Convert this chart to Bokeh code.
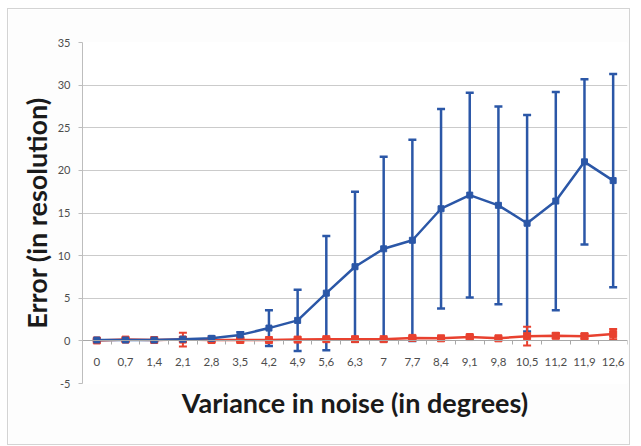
from bokeh.plotting import figure
from bokeh.models import ColumnDataSource, Whisker, TeeHead, FixedTicker, Title, Range1d
from bokeh.embed import file_html
from bokeh.resources import INLINE

# Noise variance categories (degrees) as shown on the axis
noise_variance = ["0", "0,7", "1,4", "2,1", "2,8", "3,5", "4,2", "4,9", "5,6", "6,3",
                  "7", "7,7", "8,4", "9,1", "9,8", "10,5", "11,2", "11,9", "12,6"]

# Blue series: mean error and its spread
blue_mean = [0.1, 0.1, 0.1, 0.2, 0.3, 0.7, 1.5, 2.4, 5.6, 8.7,
             10.8, 11.8, 15.5, 17.1, 15.9, 13.8, 16.4, 21.0, 18.8]
blue_err = [0.1, 0.1, 0.1, 0.2, 0.2, 0.3, 2.1, 3.6, 6.7, 8.8,
            10.8, 11.8, 11.7, 12.0, 11.6, 12.7, 12.8, 9.7, 12.5]

# Red series: mean error and its spread
red_mean = [0.05, 0.15, 0.1, 0.15, 0.1, 0.1, 0.1, 0.15, 0.2, 0.2,
            0.2, 0.35, 0.3, 0.45, 0.3, 0.55, 0.6, 0.55, 0.8]
red_err = [0.1, 0.2, 0.1, 0.8, 0.2, 0.2, 0.1, 0.1, 0.1, 0.1,
           0.1, 0.2, 0.1, 0.2, 0.1, 1.1, 0.3, 0.3, 0.6]

y_ticks = [-5, 0, 5, 10, 15, 20, 25, 30, 35]

BLUE = "#2B57A7"
RED = "#E8412F"
FONT = "Lato"
TICK_COLOR = "#4D4D4D"

xs = list(range(len(noise_variance)))


def series_source(mean, err):
    return ColumnDataSource(dict(
        x=xs,
        y=mean,
        lower=[m - e for m, e in zip(mean, err)],
        upper=[m + e for m, e in zip(mean, err)],
    ))


blue_src = series_source(blue_mean, blue_err)
red_src = series_source(red_mean, red_err)

p = figure(
    width=623, height=437,
    x_range=Range1d(-0.5, len(xs) - 0.5),
    y_range=Range1d(y_ticks[0], y_ticks[-1]),
    output_backend="svg", toolbar_location=None,
    min_border_left=74, min_border_right=4, min_border_top=33, min_border_bottom=63,
    background_fill_color="white", border_fill_color="#FDFDFD",
)
p.outline_line_color = None
p.styles = {"border": "1px solid #D4D4D4", "margin-left": "7px", "margin-top": "8px"}

# Grid
p.xgrid.visible = False
p.ygrid.ticker = FixedTicker(ticks=y_ticks)
p.ygrid.grid_line_color = "#CBCBCB"
p.ygrid.grid_line_width = 1

# Y axis (plain hyphen for negative labels)
ya = p.yaxis[0]
ya.ticker = FixedTicker(ticks=y_ticks)
ya.major_label_overrides = {t: str(t) for t in y_ticks}
ya.axis_line_color = "#BDBDBD"
ya.major_tick_line_color = "#BDBDBD"
ya.major_tick_out = 4
ya.major_tick_in = 0
ya.minor_tick_out = 0
ya.minor_tick_in = 0
ya.major_label_standoff = 8
ya.major_label_text_font = FONT
ya.major_label_text_font_size = "11px"
ya.major_label_text_color = TICK_COLOR
ya.axis_label = "Error (in resolution)"
ya.axis_label_text_font = FONT
ya.axis_label_text_font_style = "bold"
ya.axis_label_text_font_size = "27px"
ya.axis_label_text_color = "#1A1A1A"
ya.axis_label_standoff = 2

# X axis crossing at zero, ticks between categories
xa = p.xaxis[0]
xa.fixed_location = 0
xa.ticker = FixedTicker(ticks=xs, minor_ticks=[i - 0.5 for i in xs] + [xs[-1] + 0.5])
xa.major_label_overrides = {i: lab for i, lab in zip(xs, noise_variance)}
xa.axis_line_color = "#A8A8A8"
xa.major_tick_out = 0
xa.major_tick_in = 0
xa.minor_tick_line_color = "#A8A8A8"
xa.minor_tick_out = 4
xa.minor_tick_in = 0
xa.major_label_standoff = 13
xa.major_label_text_font = FONT
xa.major_label_text_font_size = "11.5px"
xa.major_label_text_color = TICK_COLOR

p.add_layout(Title(text="Variance in noise (in degrees)", align="center",
                   text_font=FONT, text_font_style="bold", text_font_size="27px",
                   text_color="#1A1A1A", standoff=0), "below")

# Error bars
for src, color, lw, cap in ((blue_src, BLUE, 2.5, 8), (red_src, RED, 2, 8)):
    w = Whisker(source=src, base="x", lower="lower", upper="upper",
                line_color=color, line_width=lw,
                upper_head=TeeHead(size=cap, line_color=color, line_width=lw),
                lower_head=TeeHead(size=cap, line_color=color, line_width=lw))
    p.add_layout(w)

# Red series
p.line("x", "y", source=red_src, line_color=RED, line_width=2.5)
p.scatter("x", "y", source=red_src, marker="square", size=7, fill_color=RED, line_color=RED)

# Blue series
p.line("x", "y", source=blue_src, line_color=BLUE, line_width=2.5)
p.scatter("x", "y", source=blue_src, marker="square", size=6, fill_color=BLUE, line_color=BLUE)

open("out.html", "w").write(file_html(p, INLINE))
